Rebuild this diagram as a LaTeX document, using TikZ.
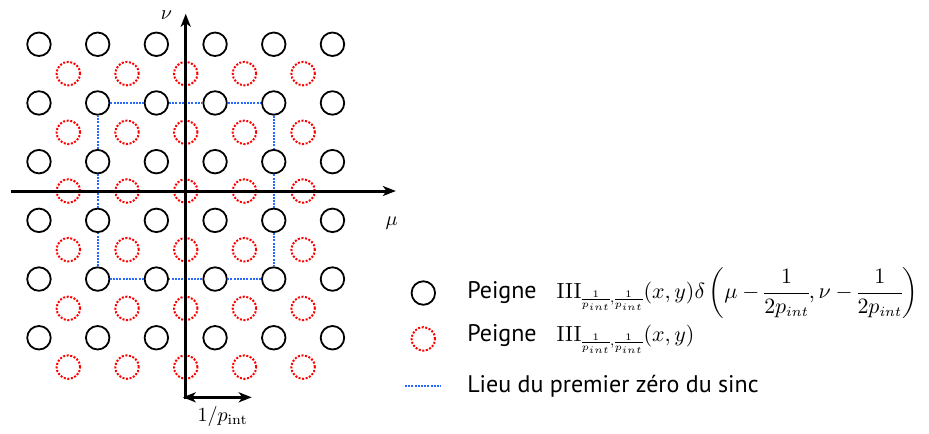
\documentclass[tikz,border=0pt]{standalone}
\usepackage{amsmath, amssymb}
\usepackage[no-math]{fontspec}
\setmainfont{PT Sans}
\usetikzlibrary{arrows.meta}
\definecolor{sincblue}{RGB}{40,105,255}
\newcommand{\legmath}[1]{{\fontsize{10.6}{12}\selectfont\nulldelimiterspace=0pt\relax$#1$}}

\begin{document}
\begin{tikzpicture}[x=29.35pt,y=29.35pt,
  peak/.style={circle,draw=black,line width=0.9pt,minimum size=11.75pt,inner sep=0pt},
  comb/.style={circle,draw=red,line width=1pt,dash pattern=on 1pt off 0.8pt,minimum size=11.75pt,inner sep=0pt},
  zeroline/.style={draw=sincblue,line width=1pt,dash pattern=on 1pt off 0.6pt},
  axis/.style={line width=1.5pt,-{Stealth[length=6.5pt,width=5pt,inset=1.8pt]}},
  legtext/.style={anchor=west,inner sep=0pt,font=\fontsize{12}{14}\selectfont}]
  \useasboundingbox (-3.164,-4.123) rectangle (12.663,3.254);
  \foreach \i in {1,...,6}
    \foreach \j in {1,...,6}
      \node[peak] (b-\i-\j) at (\i-3.5,3.5-\j) {};
  \foreach \i in {1,...,5}
    \foreach \j in {1,...,6}
      \node[comb] (r-\i-\j) at (\i-3,3-\j) {};
  \draw[zeroline] (b-2-2) -- (b-3-2) -- (b-4-2) -- (b-5-2) -- (b-5-3) -- (b-5-4) -- (b-5-5)
    -- (b-4-5) -- (b-3-5) -- (b-2-5) -- (b-2-4) -- (b-2-3) -- (b-2-2);
  \coordinate (xstart) at (-2.98,0);
  \coordinate (xend) at (3.58,0);
  \coordinate (ystart) at (0,-3.55);
  \coordinate (yend) at (0,3.02);
  \draw[axis] (xstart) -- (xend);
  \draw[axis] (ystart) -- (yend);
  \node (mu) at (3.51,-0.55) {$\mu$};
  \node (nu) at (-0.33,3.0) {$\nu$};
  \coordinate (pstart) at (-0.05,-3.515);
  \coordinate (pend) at (1.125,-3.515);
  \draw[line width=1.5pt,{Stealth[length=6.5pt,width=5pt,inset=1.8pt]}-{Stealth[length=6.5pt,width=5pt,inset=1.8pt]}] (pstart) -- (pend);
  \node (plabel) at (0.63,-3.84) {$1/p_{\mathrm{int}}$};
  \node[peak] (legpeak) at (4.048,-1.738) {};
  \node[comb] (legcomb) at (4.048,-2.52) {};
  \coordinate (legzs) at (3.736,-3.324);
  \coordinate (legze) at (4.344,-3.324);
  \draw[zeroline] (legzs) -- (legze);
  \node[legtext] (peaktext) at (4.79,-1.738) {Peigne\hspace{10pt}\legmath{\mathrm{III}_{\frac{1}{p_{int}},\frac{1}{p_{int}}}(x,y)\delta\left(\mu-\dfrac{1}{2p_{int}},\nu-\dfrac{1}{2p_{int}}\right)}};
  \node[legtext] (combtext) at (4.79,-2.52) {Peigne\hspace{10pt}\legmath{\mathrm{III}_{\frac{1}{p_{int}},\frac{1}{p_{int}}}(x,y)}};
  \node[legtext] (zerotext) at (4.79,-3.324) {Lieu du premier zéro du sinc};
\end{tikzpicture}
\end{document}
